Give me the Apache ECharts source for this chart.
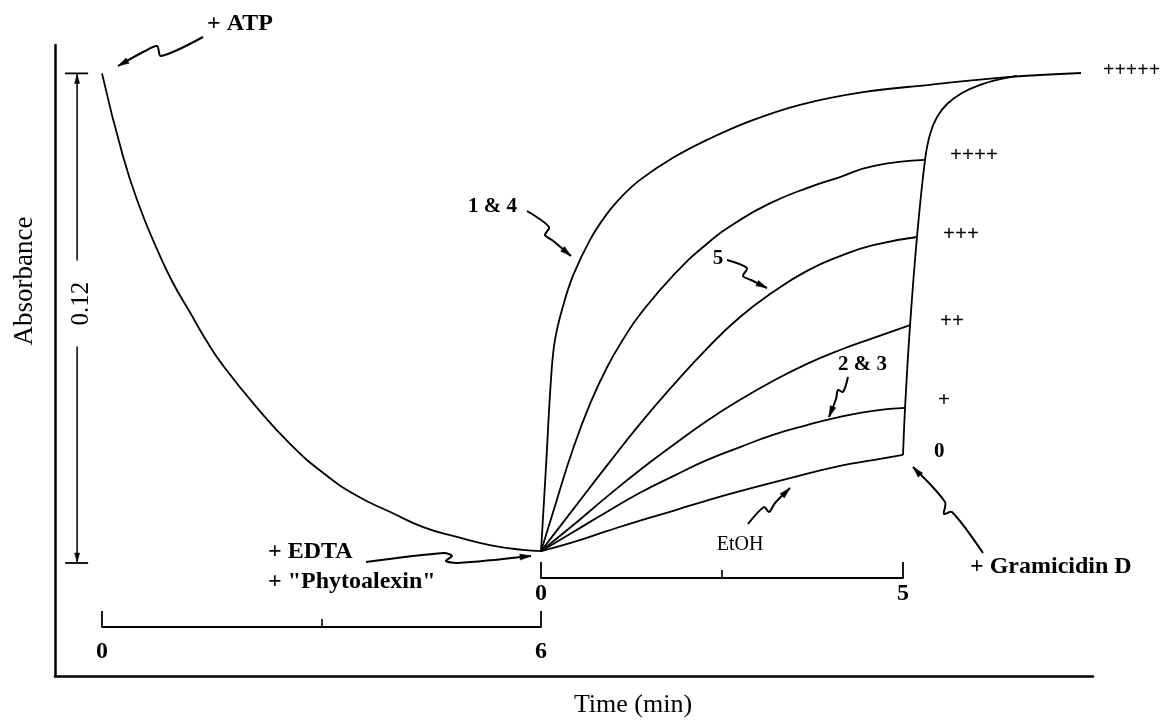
<!DOCTYPE html>
<html>
<head>
<meta charset="utf-8">
<script src="https://cdn.jsdelivr.net/npm/echarts@6/dist/echarts.min.js"></script>
<style>
html,body{margin:0;padding:0;background:#fff;}
#chart{width:1161px;height:721px;}
</style>
</head>
<body>
<div id="chart"></div>
<script>
// ---------------- DATA (time in min, absorbance change) ----------------
// Phase 1: after + ATP (0–6 min)
const atpTime = [0, 0.29, 0.52, 0.75, 0.96, 1.20, 1.43, 1.65, 2.12, 2.57, 3.02, 3.49, 3.94, 4.39, 4.85, 5.30, 5.75, 6.00];
const atpAbs  = [0.1200, 0.0995, 0.0870, 0.0770, 0.0690, 0.0615, 0.0544, 0.0485, 0.0380, 0.0292, 0.0221, 0.0164, 0.0125, 0.0088, 0.0064, 0.0044, 0.0032, 0.0029];

// Phase 2: after + EDTA + "Phytoalexin" (0–5 min)
const c14Time = [0, 0.07, 0.14, 0.193, 0.308, 0.446, 0.677, 0.908, 1.137, 1.367, 1.823, 2.293, 2.887, 3.577, 4.448, 5.373, 6.436, 7.459];
const c14Abs  = [0.0029, 0.0240, 0.0456, 0.0547, 0.0632, 0.0706, 0.0792, 0.0855, 0.0902, 0.0939, 0.0993, 0.1037, 0.1083, 0.1123, 0.1154, 0.1172, 0.1191, 0.1201];

const c2Time = [0, 0.217, 0.446, 0.677, 0.907, 1.137, 1.367, 1.827, 2.289, 2.749, 3.204, 3.674, 4.130, 4.586, 5.304];
const c2Abs  = [0.0029, 0.0154, 0.0282, 0.0390, 0.0478, 0.0549, 0.0609, 0.0705, 0.0782, 0.0841, 0.0885, 0.0919, 0.0946, 0.0973, 0.0988];

const c5Time = [0, 0.446, 0.907, 1.367, 1.827, 2.289, 2.749, 3.204, 3.674, 4.130, 4.586, 5.193];
const c5Abs  = [0.0029, 0.0132, 0.0238, 0.0341, 0.0436, 0.0525, 0.0603, 0.0664, 0.0716, 0.0752, 0.0779, 0.0799];

const c4Time = [0, 0.446, 0.907, 1.367, 1.827, 2.289, 2.749, 3.204, 3.674, 4.130, 4.586, 5.097];
const c4Abs  = [0.0029, 0.0093, 0.0162, 0.0228, 0.0289, 0.0348, 0.0400, 0.0446, 0.0488, 0.0522, 0.0551, 0.0583];

const c23Time = [0, 0.446, 0.907, 1.367, 1.827, 2.289, 2.749, 3.204, 3.674, 4.130, 4.586, 5.028];
const c23Abs  = [0.0029, 0.0076, 0.0125, 0.0172, 0.0213, 0.0252, 0.0284, 0.0314, 0.0338, 0.0358, 0.0373, 0.0380];

const etohTime = [0, 0.446, 0.907, 1.367, 1.827, 2.289, 2.749, 3.439, 4.130, 4.586, 5.000];
const etohAbs  = [0.0029, 0.0051, 0.0078, 0.0104, 0.0128, 0.0153, 0.0176, 0.0208, 0.0238, 0.0252, 0.0265];

// + Gramicidin D response
const gramTime = [5.000, 5.028, 5.097, 5.193, 5.304, 5.373, 5.470, 5.608, 5.815, 6.064, 6.340, 6.575];
const gramAbs  = [0.0265, 0.0380, 0.0583, 0.0799, 0.0988, 0.1051, 0.1093, 0.1125, 0.1152, 0.1172, 0.1186, 0.1194];

// Tick labels of the two time brackets
const phase1Ticks = [0, 6];
const phase2Ticks = [0, 5];

// Labels at the end of each phase-2 curve (after Gramicidin D)
const gradeLabels = ['+++++', '++++', '+++', '++', '+', '0'];
const scaleValue = 0.12;

// ---------------- CHART ----------------
const BLACK = '#000';
const SERIF = '"Liberation Serif","Times New Roman","DejaVu Serif",serif';
const chart = echarts.init(document.getElementById('chart'), null, {renderer: 'canvas'});

function pairs(ts, as) { return ts.map((t, i) => [t, as[i]]); }
function curve(name, xIdx, ts, as, smooth) {
  return {
    name, type: 'line', xAxisIndex: xIdx, yAxisIndex: 0,
    data: pairs(ts, as), showSymbol: false, symbol: 'none',
    smooth: smooth, silent: true,
    lineStyle: {color: BLACK, width: 1.8}, emphasis: {disabled: true}, z: 3
  };
}
function bracketAxis(gridIndex, ticks, margin) {
  const lo = ticks[0], hi = ticks[ticks.length - 1];
  return {
    type: 'value', gridIndex, position: 'bottom', min: lo, max: hi, interval: hi - lo,
    axisLine: {show: true, onZero: false, lineStyle: {color: BLACK, width: 1.8}},
    axisTick: {show: true, inside: true, length: 16, lineStyle: {color: BLACK, width: 1.8}},
    minorTick: {show: true, splitNumber: 2, length: 8, lineStyle: {color: BLACK, width: 1.6}},
    axisLabel: {show: true, margin, color: BLACK, fontFamily: SERIF, fontSize: 24, fontWeight: 'bold',
                showMinLabel: true, showMaxLabel: true},
    splitLine: {show: false}, minorSplitLine: {show: false}
  };
}

const phase2Curves = [
  curve('1 & 4', 1, c14Time, c14Abs, 0.4),
  curve('curve ++++', 1, c2Time, c2Abs, 0.5),
  curve('5', 1, c5Time, c5Abs, 0.5),
  curve('curve ++', 1, c4Time, c4Abs, 0.5),
  curve('2 & 3', 1, c23Time, c23Abs, 0.5),
  curve('EtOH', 1, etohTime, etohAbs, 0.5)
];

chart.setOption({
  backgroundColor: '#fff',
  animation: false,
  grid: [
    {left: 55, right: 68, top: 45, bottom: 45, containLabel: false, outerBoundsMode: 'none'},
    {left: 102, right: 620, top: 560, bottom: 94, containLabel: false, outerBoundsMode: 'none'},
    {left: 541, right: 258, top: 500, bottom: 143, containLabel: false, outerBoundsMode: 'none'}
  ],
  xAxis: [
    {type: 'value', gridIndex: 0, position: 'bottom', min: -0.6423, max: 13.544,
     axisLine: {show: true, onZero: false, lineStyle: {color: BLACK, width: 2.5}},
     axisTick: {show: false}, axisLabel: {show: false}, splitLine: {show: false}},
    {type: 'value', gridIndex: 0, position: 'top', min: -6.713, max: 7.624, show: false},
    bracketAxis(1, phase1Ticks, 13),
    bracketAxis(2, phase2Ticks, 4)
  ],
  yAxis: [
    {type: 'value', gridIndex: 0, min: -0.0277, max: 0.12696,
     axisLine: {show: true, onZero: false, lineStyle: {color: BLACK, width: 2.5}},
     axisTick: {show: false}, axisLabel: {show: false}, splitLine: {show: false}},
    {type: 'value', gridIndex: 1, min: 0, max: 1, show: false},
    {type: 'value', gridIndex: 2, min: 0, max: 1, show: false}
  ],
  series: [
    curve('+ ATP', 0, atpTime, atpAbs, 0.5),
    ...phase2Curves,
    curve('+ Gramicidin D', 1, gramTime, gramAbs, 0.4)
  ]
});

// ---------------- ANNOTATIONS ----------------
const P1 = v => chart.convertToPixel({xAxisIndex: 0, yAxisIndex: 0}, v);
const P2 = v => chart.convertToPixel({xAxisIndex: 1, yAxisIndex: 0}, v);
const els = [];

function text(str, x, y, size, bold, align, extra) {
  els.push(Object.assign({
    type: 'text', x, y, silent: true, z: 10,
    style: {text: str, fill: BLACK, fontFamily: SERIF, fontSize: size, fontWeight: bold ? 'bold' : 'normal',
            align: align || 'left', verticalAlign: 'middle',
            textAlign: align || 'left', textVerticalAlign: 'middle'}
  }, extra || {}));
}
function head(tip, from, len, hw) {
  const dx = tip[0] - from[0], dy = tip[1] - from[1];
  const L = Math.hypot(dx, dy), ux = dx / L, uy = dy / L;
  const bx = tip[0] - ux * len, by = tip[1] - uy * len;
  els.push({type: 'polygon', silent: true, z: 10,
    shape: {points: [tip, [bx - uy * hw, by + ux * hw], [bx + uy * hw, by - ux * hw]]},
    style: {fill: BLACK, stroke: BLACK, lineWidth: 0.5}});
}
function squiggle(points) {
  els.push({type: 'polyline', silent: true, z: 10, shape: {points, smooth: 0.3},
    style: {stroke: BLACK, lineWidth: 2, fill: 'none'}});
  head(points[points.length - 1], points[points.length - 2], 11, 3);
}

// Scale bar for 0.12 absorbance
const sbX = P1([-0.34, 0])[0];
const sbTop = P1([0, scaleValue])[1];
const sbBot = P1([0, 0])[1];
const sbMid = sbTop + (sbBot - sbTop) * 0.47;
const sbGap = 43;
els.push({type: 'line', silent: true, shape: {x1: sbX, y1: sbTop, x2: sbX, y2: sbMid - sbGap}, style: {stroke: BLACK, lineWidth: 1.5}});
els.push({type: 'line', silent: true, shape: {x1: sbX, y1: sbMid + sbGap, x2: sbX, y2: sbBot}, style: {stroke: BLACK, lineWidth: 1.5}});
els.push({type: 'line', silent: true, shape: {x1: sbX - 12, y1: sbTop, x2: sbX + 11, y2: sbTop}, style: {stroke: BLACK, lineWidth: 1.8}});
els.push({type: 'line', silent: true, shape: {x1: sbX - 12, y1: sbBot, x2: sbX + 11, y2: sbBot}, style: {stroke: BLACK, lineWidth: 1.8}});
head([sbX, sbTop + 1], [sbX, sbTop + 20], 9, 2.5);
head([sbX, sbBot - 1], [sbX, sbBot - 20], 9, 2.5);
text(String(scaleValue), sbX + 4, sbMid, 25, false, 'center', {rotation: Math.PI / 2});

// Axis titles
text('Absorbance', 25, 281, 27, false, 'center', {rotation: Math.PI / 2});
text('Time (min)', 633, 705, 26, false, 'center');

// Event labels and arrows
text('+ ATP', 207, 24, 24, true, 'left');
squiggle([[203, 37], [161, 56], [157, 46], [145, 51], [118, 66]]);

text('+ EDTA', 268, 552, 24, true, 'left');
text('+ "Phytoalexin"', 268, 582, 24, true, 'left');
squiggle([[366, 562], [444, 553], [452, 556], [446, 561], [458, 563], [531, 556]]);

text('1 & 4', 468, 207, 21, true, 'left');
squiggle([[527, 211], [549, 227], [545, 235], [552, 240], [571, 256]]);

text('5', 718, 259, 21, true, 'center');
squiggle([[727, 260], [747, 268], [743, 276], [751, 280], [767, 288]]);

text('2 & 3', 838, 365, 21, true, 'left');
squiggle([[848, 377], [843, 392], [838, 390], [836, 399], [829, 417]]);

text('EtOH', 740, 545, 20, false, 'center');
squiggle([[748, 524], [764, 507], [769, 512], [775, 503], [790, 488]]);

text('+ Gramicidin D', 970, 567, 24, true, 'left');
squiggle([[983, 553], [952, 512], [944, 514], [945, 502], [913, 467]]);

// Grade labels at the end of each phase-2 curve
const gradeSeries = [[c14Time, c14Abs], [c2Time, c2Abs], [c5Time, c5Abs], [c4Time, c4Abs], [c23Time, c23Abs], [etohTime, etohAbs]];
const gradeDx = [22, 25, 26, 30, 33, 31];
const gradeDy = [-2, -4, -2, -4, -7, -3];
const gradeSize = [20, 21, 21, 21, 21, 21];
gradeSeries.forEach((s, i) => {
  const n = s[0].length - 1;
  const p = P2([s[0][n], s[1][n]]);
  text(gradeLabels[i], p[0] + gradeDx[i], p[1] + gradeDy[i], gradeSize[i], true, 'left');
});

chart.setOption({graphic: {elements: els}});
</script>
</body>
</html>
